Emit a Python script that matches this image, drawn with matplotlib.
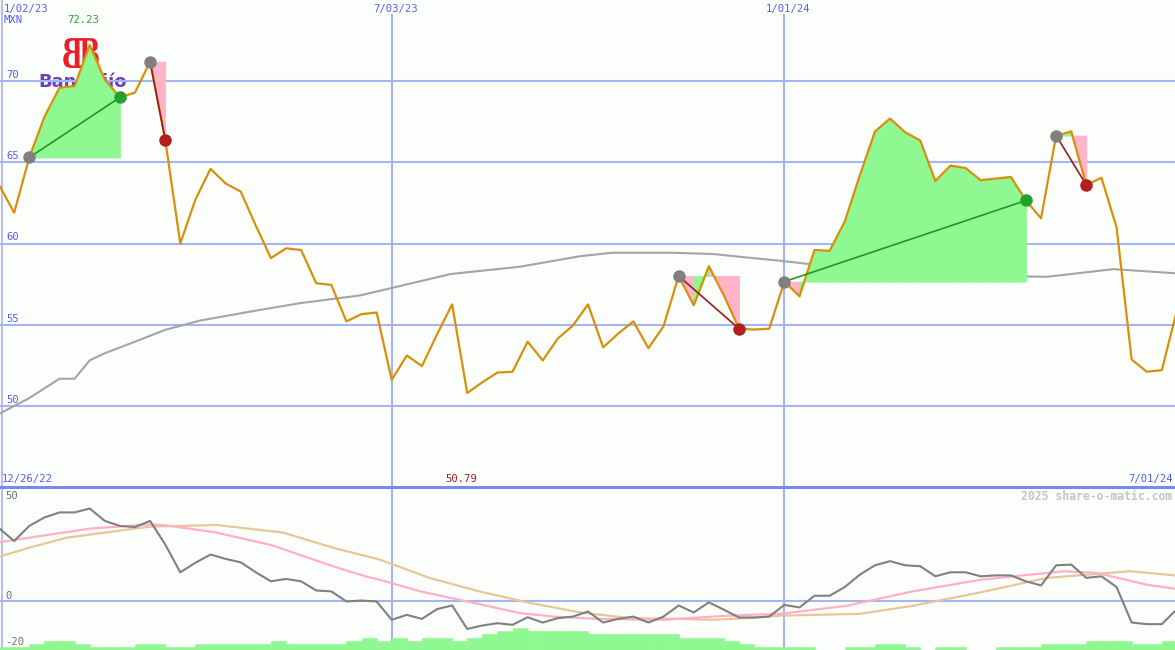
import matplotlib
matplotlib.use("Agg")
import matplotlib.pyplot as plt
from matplotlib.textpath import TextPath
from matplotlib.patches import PathPatch
from matplotlib.font_manager import FontProperties
from matplotlib.transforms import Affine2D, blended_transform_factory, offset_copy

# ---------------- data (weekly, week 0 = 1/02/23) ----------------
price = [63.6, 61.9, 65.3, 67.8, 69.6, 69.7, 72.23, 70.1, 69.0, 69.3,
         71.2, 66.4, 60.0, 62.7, 64.6, 63.7, 63.2, 61.1, 59.1, 59.7,
         59.6, 57.55, 57.45, 55.2, 55.65, 55.75, 51.6, 53.1, 52.45, 54.4,
         56.25, 50.79, 51.45, 52.05, 52.1, 53.95, 52.8, 54.15, 54.95, 56.25,
         53.6, 54.45, 55.2, 53.55, 54.9, 58.0, 56.2, 58.6, 56.8, 54.75,
         54.7, 54.75, 57.65, 56.75, 59.6, 59.55, 61.35, 64.2, 66.9, 67.7,
         66.85, 66.35, 63.85, 64.8, 64.65, 63.9, 64.0, 64.1, 62.65, 61.55,
         66.65, 66.9, 63.6, 64.05, 61.0, 52.85, 52.1, 52.2, 55.9]
weeks = list(range(len(price)))

ma_weeks = [0, 2, 4, 5, 6, 7, 9.3, 11, 13.3, 16.6, 19.9, 23.9, 26, 29.9, 34.5,
            38.5, 40.6, 44.6, 47.3, 49.5, 51.7, 53.7, 57.7, 63.4, 66.5, 69.4,
            73.8, 78]
ma_vals = [49.5, 50.48, 51.67, 51.67, 52.8, 53.24, 54.06, 54.68, 55.25, 55.8,
           56.32, 56.8, 57.26, 58.12, 58.57, 59.22, 59.43, 59.43, 59.35, 59.14,
           58.94, 58.73, 58.26, 57.89, 57.99, 57.95, 58.42, 58.16]

# trades: (entry week, exit week)
trades = [(2, 8), (10, 11), (45, 49), (52, 68), (70, 72)]

osc = [32.0, 26.4, 33.0, 36.7, 38.9, 38.9, 40.6, 35.2, 33.0, 32.5,
       35.2, 24.9, 12.75, 16.9, 20.5, 18.6, 17.1, 12.75, 8.8, 9.85,
       8.8, 4.8, 4.4, 0.0, 0.4, 0.0, -8.0, -5.85, -7.6, -3.35,
       -1.75, -12.0, -10.5, -9.5, -10.2, -6.9, -9.2, -7.3, -6.6, -4.4,
       -9.2, -7.6, -6.6, -9.2, -6.6, -1.75, -4.8, -0.4, -3.6, -7.0,
       -7.0, -6.6, -1.5, -2.6, 2.5, 2.5, 6.3, 11.7, 15.8, 17.6,
       15.8, 15.4, 11.0, 12.75, 12.75, 11.0, 11.4, 11.4, 8.8, 7.0,
       15.8, 16.1, 10.3, 11.0, 6.3, -9.2, -9.9, -9.9, -3.35]

sig_weeks = [0, 6, 10, 11, 14.4, 18.1, 22.1, 24.4, 25.2, 27.9, 31, 34.5, 36.7,
             39.6, 44, 47.3, 49.5, 51.7, 56.1, 60.5, 65, 70.5, 72.7, 76, 78]
sig_vals = [25.9, 31.8, 33.7, 33.3, 30.1, 24.5, 15.4, 10.7, 9.5, 4.4, 0.0, -5.1,
            -6.6, -7.6, -8.0, -6.6, -5.85, -5.45, -1.9, 4.4, 9.5, 13.2, 12.5,
            7.3, 5.45]

slow_weeks = [0, 2, 4.5, 10, 14.4, 18.8, 22.1, 25.2, 28.5, 31.8, 35.2, 38.5,
              41.8, 45.1, 47.3, 49.5, 51.7, 57, 60.5, 65, 69.4, 74.9, 78]
slow_vals = [19.5, 23.5, 27.9, 32.7, 33.4, 30.1, 23.5, 18.3, 10.3, 4.4, -0.7,
             -4.8, -7.3, -7.6, -8.0, -7.3, -6.2, -5.4, -1.9, 4.0, 10.3, 13.2,
             11.3]

vol = [1, 1, 2, 3, 3, 2, 1, 1, 1, 2, 2, 1, 1, 2, 2, 2, 2, 2, 3, 2,
       2, 2, 2, 3, 4, 3, 4, 3, 4, 4, 3, 4, 5, 6, 7, 6, 6, 6, 6, 5,
       5, 5, 5, 5, 5, 4, 4, 4, 3, 2, 1, 1, 1, 1, 0, 0, 1, 1, 2, 2,
       1, 0, 1, 1, 0, 0, 1, 1, 1, 2, 2, 2, 3, 3, 3, 2, 2, 3]

top_yticks = [50, 55, 60, 65, 70]
date_ticks = [(26, "7/03/23"), (52, "1/01/24")]

# ---------------- styling ----------------
W, H = 1175, 650
BG = "#fcfefc"
GRID = "#a4b4f4"
SEP = "#7888f0"
TXT = "#5060f0"
ORANGE = "#d8900c"
MONO = "DejaVu Sans Mono"
FS = 7.6

fig = plt.figure(figsize=(W / 100, H / 100), dpi=100, facecolor=BG)
top_h = 487
ax = fig.add_axes([0, (H - top_h) / H, 1, top_h / H], facecolor=BG)
axb = fig.add_axes([0, 0, 1, (H - top_h) / H], facecolor=BG)

XL = (0.06, 77.87)
for a in (ax, axb):
    a.set_xlim(*XL)
    for s in a.spines.values():
        s.set_visible(False)
    a.set_xticks([])
    a.set_yticks([])

ax.set_ylim(45.0, 75.0)

# grid
for v in top_yticks:
    ax.axhline(v, color=GRID, lw=1.5, zorder=1)
axb.axhline(0, color=GRID, lw=1.5, zorder=1)
for w, _ in date_ticks:
    ax.axvline(w, ymin=0, ymax=1 - 15 / top_h, color=GRID, lw=1.5, zorder=1)
    axb.axvline(w, color=GRID, lw=1.5, zorder=1)
ax.axvline(0.19, color=GRID, lw=1.2, zorder=1)
axb.axvline(0.19, color=GRID, lw=1.2, zorder=1)
axb.axhline(50, color=SEP, lw=2.2, zorder=6, clip_on=False)
axb.set_ylim(-21.2, 50)

# logo (behind data)
fp = FontProperties(family="DejaVu Serif", weight="bold")
bpath = TextPath((0, 0), "B", size=1, prop=fp)
px2data_x = (XL[1] - XL[0]) / W
px2data_y = 30.0 / top_h
sx = 25 * px2data_x
sy = 41 * px2data_y
for mirror, x0 in ((True, 83), (False, 79)):
    tr = Affine2D().scale(-sx if mirror else sx, sy).translate(
        XL[0] + x0 * px2data_x, 75 - 68 * px2data_y)
    ax.add_patch(PathPatch(tr.transform_path(bpath), fc="#e8202a", ec="none", zorder=0.5))
ax.text(XL[0] + 38 * px2data_x, 75 - 82 * px2data_y, "BanBajío", color="#6a40b8",
        fontsize=13, fontweight="bold", family="DejaVu Sans", va="center", ha="left",
        zorder=0.6)

# moving average
ax.plot(ma_weeks, ma_vals, color="#a4a4a4", lw=1.5, zorder=2)

# trade fills (per segment, coloured by end of segment)
for e, x in trades:
    lvl = price[e]
    for k in range(e, x):
        col = "#90f890" if price[k + 1] >= lvl else "#ffb4c8"
        ax.fill_between(weeks[k:k + 2], price[k:k + 2], lvl, color=col, ec=col,
                        lw=0.6, zorder=2.5)

# price line
ax.plot(weeks, price, color=ORANGE, lw=1.6, zorder=3)

# trade connectors and markers
for e, x in trades:
    win = price[x] >= price[e]
    lc = "#22962a" if win else "#9a1a1a"
    ax.plot([weeks[e], weeks[x]], [price[e], price[x]], color=lc, lw=1.2, zorder=4)
    ax.plot(weeks[e], price[e], "o", color="#808080", ms=9, mec="none", zorder=5)
    ax.plot(weeks[x], price[x], "o", color="#22a22a" if win else "#b02020",
            ms=9, mec="none", zorder=5)

# ---------------- bottom panel ----------------
lvl_unit = 1.36
axb.bar(weeks[:len(vol)], [v * lvl_unit for v in vol], width=1.0, align="edge",
        bottom=-21.2, color="#90f890", ec="#90f890", lw=0.4, zorder=1.5)
axb.plot(slow_weeks, slow_vals, color="#e6c898", lw=1.6, zorder=2)
axb.plot(sig_weeks, sig_vals, color="#ffb0c8", lw=1.6, zorder=2.2)
axb.plot(weeks, osc, color="#808080", lw=1.5, zorder=3)

# ---------------- texts ----------------
def ftext(x, y, s, ha="left", color=TXT, size=FS, weight="normal"):
    fig.text(x / W, 1 - y / H, s, ha=ha, va="center", color=color,
             fontsize=size, family=MONO, fontweight=weight, zorder=10)

ftext(4, 9, "1/02/23")
ftext(4, 20, "MXN")
for w, lab in date_ticks:
    xp = (w - XL[0]) / (XL[1] - XL[0]) * W
    ftext(xp + 4, 9, lab, ha="center")
for v in top_yticks:
    yp = (75 - v) / 30 * top_h
    ftext(6, yp - 6, str(v))
ftext(2, 479, "12/26/22")
ftext(1173, 479, "7/01/24", ha="right")
ftext(1172, 496, "2025 share-o-matic.com", ha="right", color="#c4c4c4", size=8.3,
      weight="bold")
ftext(5, 496, "50", color="#707070")
ftext(5, 596, "0", color="#707070")
ftext(5, 642, "-20", color="#707070")

imax = price.index(max(price))
imin = price.index(min(price))
tx = blended_transform_factory(ax.transData, fig.transFigure)
fig.text(weeks[imax], 1 - 20 / H, f"{max(price):.2f}", transform=offset_copy(tx, fig=fig, x=-6, units="dots"),
         ha="center", va="center", color="#30a030", fontsize=FS, family=MONO)
fig.text(weeks[imin], 1 - 479 / H, f"{min(price):.2f}", transform=offset_copy(tx, fig=fig, x=-6, units="dots"),
         ha="center", va="center", color="#a02020", fontsize=FS, family=MONO)

fig.savefig("out.png", dpi=100, facecolor=BG)
